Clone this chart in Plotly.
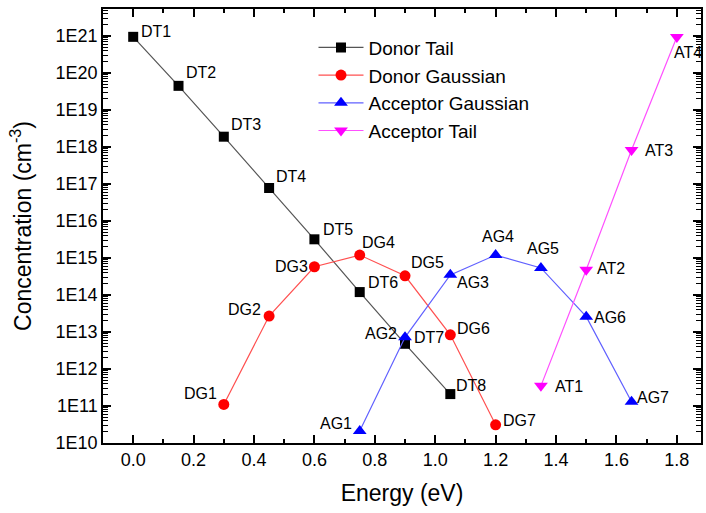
import math
import plotly.graph_objects as go

energy_dt = [0.0, 0.15, 0.30, 0.45, 0.60, 0.75, 0.90, 1.05]
conc_dt = [9.5e20, 4.5e19, 1.9e18, 7.8e16, 3.2e15, 1.2e14, 4.8e12, 2.1e11]
labels_dt = ["DT1", "DT2", "DT3", "DT4", "DT5", "DT6", "DT7", "DT8"]

energy_dg = [0.30, 0.45, 0.60, 0.75, 0.90, 1.05, 1.20]
conc_dg = [1.1e11, 2.7e13, 5.8e14, 1.2e15, 3.3e14, 8.4e12, 3.1e10]
labels_dg = ["DG1", "DG2", "DG3", "DG4", "DG5", "DG6", "DG7"]

energy_ag = [0.75, 0.90, 1.05, 1.20, 1.35, 1.50, 1.65]
conc_ag = [2.1e10, 7.2e12, 3.5e14, 1.2e15, 5.4e14, 2.6e13, 1.3e11]
labels_ag = ["AG1", "AG2", "AG3", "AG4", "AG5", "AG6", "AG7"]

energy_at = [1.35, 1.50, 1.65, 1.80]
conc_at = [3.5e11, 4.8e14, 8.3e17, 9.4e20]
labels_at = ["AT1", "AT2", "AT3", "AT4"]

ytick_exp = list(range(10, 22))
ytick_text = ["1E%d" % e for e in ytick_exp]
xtick_vals = [0.0, 0.2, 0.4, 0.6, 0.8, 1.0, 1.2, 1.4, 1.6, 1.8]
xtick_text = ["0.0", "0.2", "0.4", "0.6", "0.8", "1.0", "1.2", "1.4", "1.6", "1.8"]

# label placement (anchor, xshift, yshift) per point
pos_dt = [("left", 6, 5), ("left", 5, 13), ("left", 5, 12), ("left", 5, 12),
          ("left", 7, 10), ("left", 6, 10), ("left", 7, 6), ("left", 4, 9)]
pos_dg = [("right", -5, 11), ("right", -6, 7), ("right", -4, 0), ("left", 0, 13),
          ("left", 4, 13), ("left", 5, 6), ("left", 5, 4)]
pos_ag = [("right", -6, 8), ("right", -6, 4), ("left", 5, -8), ("center", 2, 19),
          ("center", 2, 19), ("left", 6, -1), ("left", 3, 4)]
pos_at = [("left", 12, -1), ("left", 9, 1), ("left", 11, 0), ("left", -5, -15)]

fig = go.Figure()
series = [
    ("Donor Tail", energy_dt, conc_dt, labels_dt, pos_dt, "black", "#555555", "square", 10),
    ("Donor Gaussian", energy_dg, conc_dg, labels_dg, pos_dg, "#ff0000", "#ff5050", "circle", 11),
    ("Acceptor Gaussian", energy_ag, conc_ag, labels_ag, pos_ag, "#0000ff", "#6060ff", "triangle-up", 12),
    ("Acceptor Tail", energy_at, conc_at, labels_at, pos_at, "#ff00ff", "#ff50ff", "triangle-down", 12),
]
for name, xs, ys, labs, pos, mcol, lcol, sym, sz in series:
    fig.add_trace(go.Scatter(
        x=xs, y=ys, mode="lines+markers", name=name,
        line=dict(color=lcol, width=1.2),
        marker=dict(color=mcol, symbol=sym, size=sz, line=dict(width=0)),
    ))
    for x, y, lab, (anc, dx, dy) in zip(xs, ys, labs, pos):
        fig.add_annotation(x=x, y=math.log10(y), text=lab, showarrow=False, xanchor=anc,
                           yanchor="middle", xshift=dx, yshift=dy,
                           font=dict(size=16, color="black"))

# invisible helper trace so the overlay axis (long decade ticks) is drawn
fig.add_trace(go.Scatter(x=[None], y=[None], yaxis="y2", showlegend=False, hoverinfo="skip"))

# all y ticks (decades + log minors) on the main axis, labels only at decades
y_tickvals = []
y_ticktext = []
for e, lab in zip(ytick_exp, ytick_text):
    y_tickvals.append(10.0 ** e)
    y_ticktext.append(lab)
    for m in range(2, 10):
        y_tickvals.append(float(m) * 10.0 ** e)
        y_ticktext.append("")
y_range = [10, 21.73]

fig.update_layout(
    width=706, height=513,
    margin=dict(l=103, r=3, t=9, b=70),
    paper_bgcolor="white", plot_bgcolor="white",
    font=dict(family="Liberation Sans, Arial, sans-serif", color="black"),
    showlegend=True,
    legend=dict(x=0.352, y=0.955, xanchor="left", yanchor="top",
                font=dict(size=19), bgcolor="rgba(0,0,0,0)",
                itemwidth=45, tracegroupgap=0),
    xaxis=dict(
        range=[-0.1, 1.88], tickmode="array",
        tickvals=xtick_vals, ticktext=xtick_text,
        ticks="inside", ticklen=8, tickwidth=1.5, tickcolor="black",
        minor=dict(ticks="inside", ticklen=4, tickwidth=1.5, dtick=0.1, tick0=0,
                   tickcolor="black", showgrid=False),
        showline=True, linecolor="black", linewidth=1.5, mirror="ticks",
        showgrid=False, zeroline=False,
        tickfont=dict(size=18),
        title=dict(text="Energy (eV)", font=dict(size=23), standoff=16),
    ),
    yaxis=dict(
        type="log", range=y_range, tickmode="array",
        tickvals=y_tickvals, ticktext=y_ticktext,
        ticks="inside", ticklen=5, tickwidth=1, tickcolor="black",
        showline=True, linecolor="black", linewidth=1.5, mirror="ticks",
        showgrid=False, zeroline=False,
        tickfont=dict(size=18),
        title=dict(text="Concentration (cm<sup>-3</sup>)", font=dict(size=23), standoff=18),
    ),
    yaxis2=dict(
        type="log", range=y_range, overlaying="y", side="left", anchor="x",
        tickmode="array", tickvals=[10.0 ** e for e in ytick_exp],
        showticklabels=False,
        ticks="inside", ticklen=8, tickwidth=1.5, tickcolor="black",
        showline=False, mirror="ticks", showgrid=False, zeroline=False,
    ),
)
fig.write_html("out.html")
